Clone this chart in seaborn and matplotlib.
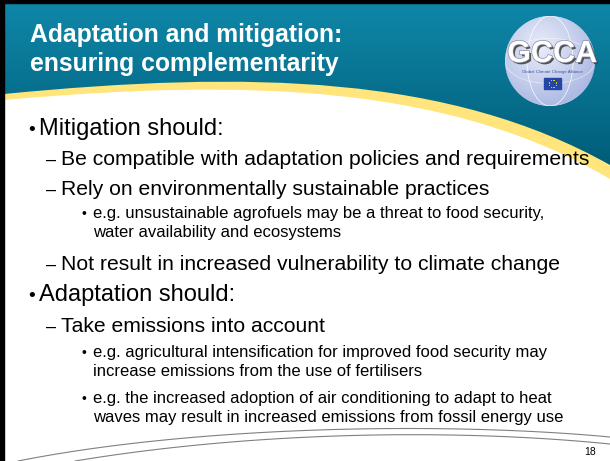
import numpy as np
import pandas as pd
import matplotlib
matplotlib.use("Agg")
import matplotlib.pyplot as plt
import matplotlib.patheffects as pe
from matplotlib.path import Path
from matplotlib.patches import PathPatch, Circle, Rectangle, Ellipse
import seaborn as sns

# slide text
TITLE = ["Adaptation and mitigation:", "ensuring complementarity"]
LINES = [
    "Mitigation should:",
    "Be compatible with adaptation policies and requirements",
    "Rely on environmentally sustainable practices",
    "e.g. unsustainable agrofuels may be a threat to food security,",
    "water availability and ecosystems",
    "Not result in increased vulnerability to climate change",
    "Adaptation should:",
    "Take emissions into account",
    "e.g. agricultural intensification for improved food security may",
    "increase emissions from the use of fertilisers",
    "e.g. the increased adoption of air conditioning to adapt to heat",
    "waves may result in increased emissions from fossil energy use",
]
LEVELS = [1, 2, 2, 3, 3, 2, 1, 2, 3, 3, 3, 3]
CONTINUED = [False, False, False, False, True, False, False, False, False, True, False, True]
PAGE = "18"
LOGO = "GCCA"
LOGO_SUB = "Global Climate Change Alliance"

# layout (pixels, y down)
W, H = 610, 461
BASELINES = [135, 165, 195, 218, 237, 270, 301, 332, 357, 376, 403, 422]
LEVEL_STYLE = {1: dict(mark="\u2022", mx=28, tx=39, size=17, msize=14),
               2: dict(mark="\u2013", mx=46, tx=61, size=15.2, msize=13),
               3: dict(mark="\u2022", mx=82, tx=93, size=12, msize=10)}
FONT = "Liberation Sans"


def bezier(p0, p1, p2, p3, n=120):
    t = np.linspace(0, 1, n)[:, None]
    pts = ((1 - t) ** 3) * np.array(p0) + 3 * ((1 - t) ** 2) * t * np.array(p1) \
        + 3 * (1 - t) * t ** 2 * np.array(p2) + t ** 3 * np.array(p3)
    return pd.DataFrame(pts, columns=["x", "y"])


sns.set_theme(style="white")
plt.rcParams["font.family"] = [FONT, "DejaVu Sans"]

fig = plt.figure(figsize=(6.1, 4.61), dpi=100)
ax = fig.add_axes([0, 0, 1, 1])
ax.set_axis_off()

# yellow swoosh (area above curve B), teal header above curve A
yellow = Path([(4, 3), (610, 3), (610, 179), (450, 85), (250, 78), (4, 100), (4, 3)],
              [Path.MOVETO, Path.LINETO, Path.LINETO, Path.CURVE4, Path.CURVE4, Path.CURVE4, Path.CLOSEPOLY])
ax.add_patch(PathPatch(yellow, facecolor="#FFE57C", edgecolor="none", zorder=1))

teal = Path([(4, 3), (610, 3), (610, 165), (450, 75), (250, 70), (4, 94), (4, 3)],
            [Path.MOVETO, Path.LINETO, Path.LINETO, Path.CURVE4, Path.CURVE4, Path.CURVE4, Path.CLOSEPOLY])
teal_patch = PathPatch(teal, facecolor="none", edgecolor="none", zorder=2)
ax.add_patch(teal_patch)
top_c = np.array([0.06, 0.53, 0.66])
bot_c = np.array([0.0, 0.36, 0.47])
g = np.linspace(0, 1, 200)[:, None, None]
grad = top_c * (1 - g) + bot_c * g
im = ax.imshow(grad, extent=(4, 610, 170, 3), aspect="auto", zorder=2, interpolation="bilinear")
im.set_clip_path(teal_patch)

# black frame on top and left
ax.add_patch(Rectangle((0, 0), W, 3, color="black", zorder=5))
ax.add_patch(Rectangle((0, 0), 4, H, color="black", zorder=5))

# title
for i, t in enumerate(TITLE):
    ax.text(30, 42 + i * 29, t, color="white", fontsize=17.8, fontweight="bold",
            va="baseline", ha="left", zorder=6)

# logo
cx, cy, r = 550, 61, 45
disc = Circle((cx, cy), r, facecolor="none", edgecolor="none", zorder=3)
ax.add_patch(disc)
yy, xx = np.mgrid[-1:1:120j, -1:1:120j]
rr = np.clip(np.sqrt((xx + 0.2) ** 2 + (yy + 0.3) ** 2) / 1.3, 0, 1)[..., None]
glow = np.array([0.92, 0.93, 0.98]) * (1 - rr) + np.array([0.68, 0.73, 0.89]) * rr
lim = ax.imshow(glow, extent=(cx - r, cx + r, cy + r, cy - r), zorder=3, aspect="auto")
lim.set_clip_path(disc)
for k in (-0.5, 0.0, 0.5):
    ax.add_patch(Ellipse((cx, cy), 2 * r * (1 - abs(k)) + 1, 2 * r, fill=False,
                         edgecolor="white", lw=0.5, alpha=0.6, zorder=3, clip_path=disc))
ax.add_patch(Ellipse((cx, cy), 2 * r, r, fill=False, edgecolor="white", lw=0.5,
                     alpha=0.6, zorder=3, clip_path=disc))
ax.text(cx + 2, cy + 1, LOGO, fontsize=22, fontweight="bold", color="white", ha="center",
        va="baseline", zorder=4,
        path_effects=[pe.withSimplePatchShadow(offset=(1.5, -1.5), shadow_rgbFace="#444444", alpha=0.9),
                      pe.withStroke(linewidth=1.0, foreground="#8a8fa8")])
ax.text(cx + 2, cy + 12, LOGO_SUB, fontsize=3.2, color="#3a55a5", ha="center", va="baseline", zorder=4)
ax.add_patch(Rectangle((cx - 6, cy + 17), 17, 11, color="#2447a3", zorder=4))
ang = np.linspace(0, 2 * np.pi, 12, endpoint=False)
ax.scatter(cx + 2.5 + 3.5 * np.cos(ang), cy + 22.5 + 3.5 * np.sin(ang), s=0.6,
           color="#ffdd00", zorder=5, linewidths=0)

# body text
for text, lvl, cont, y in zip(LINES, LEVELS, CONTINUED, BASELINES):
    st = LEVEL_STYLE[lvl]
    if not cont:
        ax.text(st["mx"], y, st["mark"], fontsize=st["msize"], color="black",
                va="baseline", ha="left", zorder=6)
    ax.text(st["tx"], y, text, fontsize=st["size"], color="black", va="baseline",
            ha="left", zorder=6)

# bottom swooshes
for curve in (bezier((18, 461), (200, 425), (450, 422), (610, 437)),
              bezier((75, 461), (250, 432), (450, 428), (610, 444))):
    sns.lineplot(data=curve, x="x", y="y", ax=ax, color="#808080", lw=0.8, sort=False,
                 estimator=None, zorder=4)

ax.text(596, 455, PAGE, fontsize=7.5, color="black", ha="right", va="baseline", zorder=6)

ax.set_xlim(0, W)
ax.set_ylim(H, 0)
ax.set_xlabel("")
ax.set_ylabel("")
fig.savefig("out.png", dpi=100)
